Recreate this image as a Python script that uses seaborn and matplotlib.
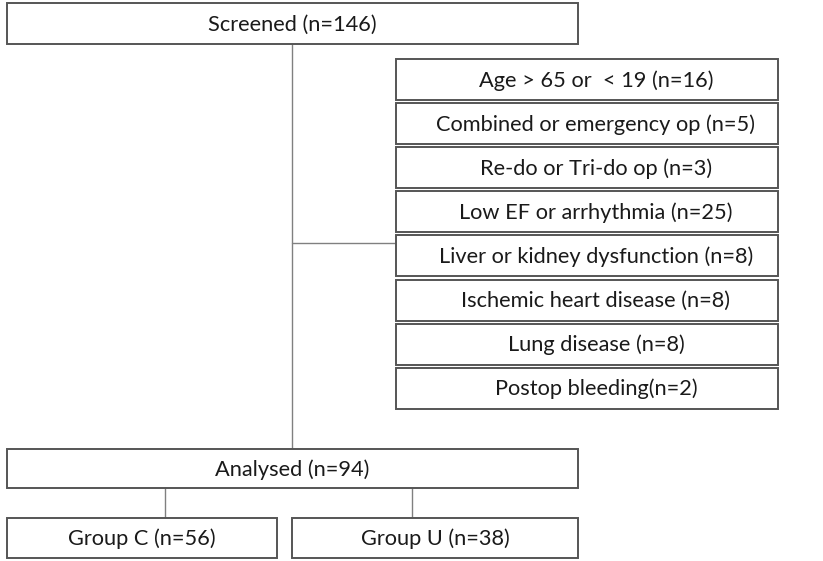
import matplotlib
matplotlib.use("Agg")
import matplotlib.pyplot as plt
from matplotlib.patches import Rectangle
import seaborn as sns

# Flowchart content
screened_label = "Screened (n=146)"
exclusion_labels = [
    "Age > 65 or  < 19 (n=16)",
    "Combined or emergency op (n=5)",
    "Re-do or Tri-do op (n=3)",
    "Low EF or arrhythmia (n=25)",
    "Liver or kidney dysfunction (n=8)",
    "Ischemic heart disease (n=8)",
    "Lung disease (n=8)",
    "Postop bleeding(n=2)",
]
analysed_label = "Analysed (n=94)"
group_labels = ["Group C (n=56)", "Group U (n=38)"]

sns.set_theme(style="white")
plt.rcParams["font.family"] = ["Lato", "DejaVu Sans"]

fig = plt.figure(figsize=(8.23, 5.61), dpi=100)
ax = fig.add_axes([0, 0, 1, 1])
ax.set_xlim(0, 823)
ax.set_ylim(561, 0)
ax.axis("off")

edge = "#555555"
line = "#808080"
txt = "#1a1a1a"
fs = 15.7


def box(x0, y0, x1, y1, label, dx=0):
    ax.add_patch(Rectangle((x0, y0), x1 - x0, y1 - y0, facecolor="white",
                           edgecolor=edge, linewidth=1.4, zorder=2))
    ax.text((x0 + x1) / 2 + dx, (y0 + y1) / 2 + 1, label, ha="center",
            va="center", fontsize=fs, color=txt, zorder=3)


# connectors
ax.plot([292, 292], [44, 449], color=line, lw=1, zorder=1)
ax.plot([292, 396], [243, 243], color=line, lw=1, zorder=1)
ax.plot([165, 165], [488, 518], color=line, lw=1, zorder=1)
ax.plot([412, 412], [488, 518], color=line, lw=1, zorder=1)

# boxes
box(7, 3, 578, 44, screened_label)
for i, lab in enumerate(exclusion_labels):
    top = 59 + i * 44.1
    box(396, top, 778, top + 41, lab, dx=9)
box(7, 449, 578, 488, analysed_label)
box(7, 518, 277, 558, group_labels[0])
box(292, 518, 578, 558, group_labels[1])

fig.savefig("out.png", dpi=100)
